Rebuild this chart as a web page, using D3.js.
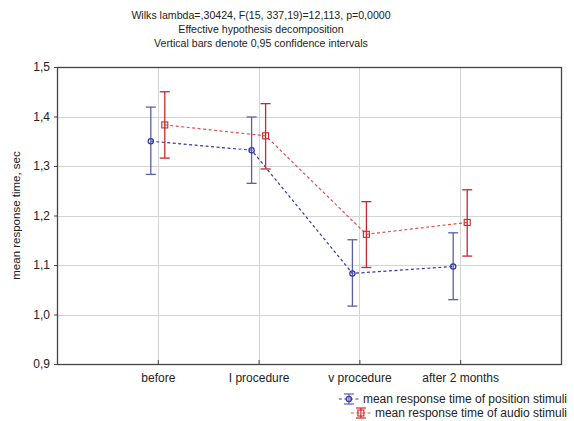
<!DOCTYPE html>
<html lang="en">
<head>
<meta charset="UTF-8">
<title>Mean response time</title>
<script src="https://d3js.org/d3.v7.min.js"></script>
<style>
    body { margin: 0; background: #fff; font-family: "Liberation Sans", Arial, sans-serif; }
    svg text { fill: #222; }
    .grid line { stroke: #d4d4d4; stroke-width: 1; }
</style>
</head>
<body>
<div id="chart"></div>
<script>
    const categories = ["before", "I procedure", "v procedure", "after 2 months"];
    const yTicks = [0.9, 1.0, 1.1, 1.2, 1.3, 1.4, 1.5];

    const positionMean = [1.350, 1.332, 1.083, 1.097];
    const positionLow  = [1.283, 1.265, 1.017, 1.030];
    const positionHigh = [1.419, 1.399, 1.151, 1.165];

    const audioMean = [1.383, 1.361, 1.162, 1.186];
    const audioLow  = [1.316, 1.294, 1.095, 1.118];
    const audioHigh = [1.450, 1.426, 1.228, 1.252];

    const titleLines = [
        "Wilks lambda=,30424, F(15, 337,19)=12,113, p=0,0000",
        "Effective hypothesis decomposition",
        "Vertical bars denote 0,95 confidence intervals"
    ];

    const series = [
        { name: "mean response time of position stimuli", mean: positionMean, low: positionLow, high: positionHigh,
          line: "#3638a8", bar: "#5a5ea8", marker: "circle", offset: -7 },
        { name: "mean response time of audio stimuli", mean: audioMean, low: audioLow, high: audioHigh,
          line: "#e0504f", bar: "#c8282a", marker: "square", offset: 7 }
    ];

    const W = 574, H = 421;
    const margin = {top: 67, right: 13, bottom: 57, left: 57};
    const width = W - margin.left - margin.right;
    const height = H - margin.top - margin.bottom;

    const svg = d3.select("#chart").append("svg")
        .attr("width", W).attr("height", H);

    // title
    svg.append("g").selectAll("text")
        .data(titleLines).enter().append("text")
        .attr("x", 261)
        .attr("y", (d, i) => 19 + i * 14)
        .attr("text-anchor", "middle")
        .style("font-size", "10.6px")
        .text(d => d);

    const g = svg.append("g").attr("transform", `translate(${margin.left},${margin.top})`);

    const x = d3.scaleLinear().domain([0, categories.length + 1]).range([0, width]);
    const y = d3.scaleLinear().domain([0.9, 1.5]).range([height, 0]);
    const fmt = v => d3.format(".1f")(v).replace(".", ",");

    // grid
    const grid = g.append("g").attr("class", "grid");
    grid.selectAll(".gy").data(yTicks.slice(1, -1)).enter().append("line")
        .attr("x1", 0).attr("x2", width)
        .attr("y1", d => Math.round(y(d)) + 0.5).attr("y2", d => Math.round(y(d)) + 0.5);
    grid.selectAll(".gx").data(categories).enter().append("line")
        .attr("x1", (d, i) => Math.round(x(i + 1)) + 0.5).attr("x2", (d, i) => Math.round(x(i + 1)) + 0.5)
        .attr("y1", 0).attr("y2", height);

    // axes
    const yAxis = g.append("g")
        .call(d3.axisLeft(y).tickValues(yTicks).tickFormat(fmt).tickSize(3).tickPadding(4));
    yAxis.select(".domain").remove();
    yAxis.selectAll("line").attr("stroke", "#444");
    yAxis.selectAll("text").style("font-size", "12px").attr("fill", "#222");

    const xAxis = g.append("g").attr("transform", `translate(0,${height})`)
        .call(d3.axisBottom(x).tickValues(categories.map((d, i) => i + 1))
            .tickFormat((d, i) => categories[i]).tickSize(-4).tickPadding(9));
    xAxis.select(".domain").remove();
    xAxis.selectAll("line").attr("stroke", "#444");
    xAxis.selectAll("text").style("font-size", "12px").attr("fill", "#222");

    g.append("rect")
        .attr("x", 0.5).attr("y", 0.5).attr("width", width).attr("height", height)
        .attr("fill", "none").attr("stroke", "#444").attr("stroke-width", 1.3);

    // y label
    svg.append("text")
        .attr("transform", `translate(20,${margin.top + height / 2}) rotate(-90)`)
        .attr("text-anchor", "middle")
        .style("font-size", "11.5px")
        .text("mean response time, sec");

    function drawMarker(sel, s, cx, cy) {
        if (s.marker === "circle") {
            sel.append("circle").attr("cx", cx).attr("cy", cy).attr("r", 2.6)
                .attr("fill", "none").attr("stroke", s.line).attr("stroke-width", 1.3);
        } else {
            sel.append("rect").attr("x", cx - 3).attr("y", cy - 3).attr("width", 6).attr("height", 6)
                .attr("fill", "none").attr("stroke", s.bar).attr("stroke-width", 1.1);
        }
    }

    // series
    series.forEach(s => {
        const sg = g.append("g");
        const line = d3.line().x((d, i) => x(i + 1) + s.offset).y(d => y(d));
        sg.append("path").datum(s.mean)
            .attr("d", line).attr("fill", "none")
            .attr("stroke", s.line).attr("stroke-width", 1.2)
            .attr("stroke-dasharray", "3,2.5");

        s.mean.forEach((m, i) => {
            const cx = x(i + 1) + s.offset;
            sg.append("line").attr("x1", cx).attr("x2", cx)
                .attr("y1", y(s.low[i])).attr("y2", y(s.high[i]))
                .attr("stroke", s.bar).attr("stroke-width", 1.3);
            [s.low[i], s.high[i]].forEach(v => {
                sg.append("line").attr("x1", cx - 5).attr("x2", cx + 5)
                    .attr("y1", y(v)).attr("y2", y(v))
                    .attr("stroke", s.bar).attr("stroke-width", 1.3);
            });
            drawMarker(sg, s, cx, y(m));
        });
    });

    // legend
    const legend = svg.append("g");
    const legendRight = 567;
    series.forEach((s, i) => {
        const ly = 399 + i * 14;
        const t = legend.append("text")
            .attr("x", legendRight).attr("y", ly + 4)
            .attr("text-anchor", "end")
            .style("font-size", "12px")
            .text(s.name);
        const tw = t.node().getComputedTextLength();
        const sx = legendRight - tw - 4;
        const cx = sx - 10;
        legend.append("line").attr("x1", sx - 20).attr("x2", sx)
            .attr("y1", ly).attr("y2", ly)
            .attr("stroke", s.line).attr("stroke-width", 1.2).attr("stroke-dasharray", "3,2.5");
        legend.append("line").attr("x1", cx).attr("x2", cx).attr("y1", ly - 5).attr("y2", ly + 5)
            .attr("stroke", s.bar).attr("stroke-width", 1.2);
        [ly - 5, ly + 5].forEach(v => legend.append("line")
            .attr("x1", cx - 5).attr("x2", cx + 5).attr("y1", v).attr("y2", v)
            .attr("stroke", s.bar).attr("stroke-width", 1.2));
        drawMarker(legend, s, cx, ly);
    });
</script>
</body>
</html>
